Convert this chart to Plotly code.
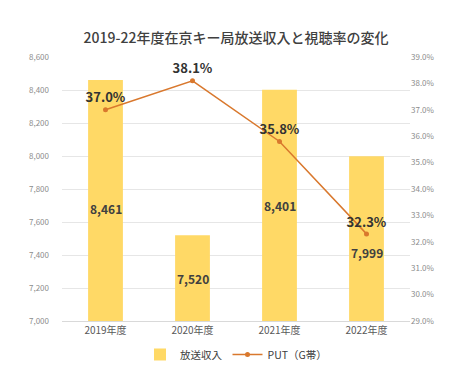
import plotly.graph_objects as go

categories = ["2019年度", "2020年度", "2021年度", "2022年度"]
revenue = [8461, 7520, 8401, 7999]
put = [0.370, 0.381, 0.358, 0.323]

title = "2019-22年度在京キー局放送収入と視聴率の変化"
bar_name = "放送収入"
line_name = "PUT（G帯）"

FONT = "Noto Sans CJK JP"
AXIS_MIN = 7000
# vertical pixel nudges of the bar value labels (as placed in the original)
label_shift = [-8, 0, 0, -14]

fig = go.Figure()
fig.add_trace(go.Bar(
    x=categories, y=[v - AXIS_MIN for v in revenue], base=AXIS_MIN, name=bar_name,
    marker=dict(color="#FFD966", line=dict(width=0)),
    width=0.4,
    customdata=revenue, hovertemplate="%{x}: %{customdata:,}<extra></extra>",
    yaxis="y",
))
fig.add_trace(go.Scatter(
    x=categories, y=put, name=line_name, mode="lines+markers+text",
    line=dict(color="#D9782D", width=1.5),
    marker=dict(color="#D9782D", size=5),
    texttemplate="%{y:.1%}", textposition="top center",
    textfont=dict(family=FONT, size=13, color="#333333", weight="bold"),
    yaxis="y2",
))

for c, v, s in zip(categories, revenue, label_shift):
    fig.add_annotation(x=c, y=(AXIS_MIN + v) / 2, xref="x", yref="y", text=f"{v:,}",
                       showarrow=False, yshift=s,
                       font=dict(family=FONT, size=12, color="#404040", weight="bold"))

fig.update_layout(
    width=474, height=373,
    margin=dict(l=54, r=72, t=49, b=56),
    paper_bgcolor="white", plot_bgcolor="white",
    font=dict(family=FONT, color="#595959"),
    title=dict(text=title, x=0.5, xref="paper", xanchor="center", y=1 - 30/373, yanchor="middle",
               font=dict(family=FONT, size=14, color="#404040", weight=500)),
    showlegend=True,
    legend=dict(orientation="h", x=0.5, xanchor="center", y=-34/268, yanchor="middle",
                font=dict(family=FONT, size=10.5, color="#404040"),
                itemwidth=30, tracegroupgap=0),
    xaxis=dict(showgrid=False, showline=True, linecolor="#D9D9D9", linewidth=1,
               tickfont=dict(family=FONT, size=10, color="#595959"), ticks=""),
    yaxis=dict(range=[7000, 8600], dtick=200, tickformat=",", showgrid=True,
               gridcolor="#E6E6E6", gridwidth=1, zeroline=False, showline=False,
               tickfont=dict(family=FONT, size=8, color="#8C8C8C"), ticklabelstandoff=12),
    yaxis2=dict(range=[0.29, 0.39], dtick=0.01, tickformat=".1%", overlaying="y",
                side="right", showgrid=False, zeroline=False, showline=False,
                tickfont=dict(family=FONT, size=8, color="#8C8C8C"), ticklabelstandoff=0),
    bargap=0.6,
)

fig.write_html("out.html")
